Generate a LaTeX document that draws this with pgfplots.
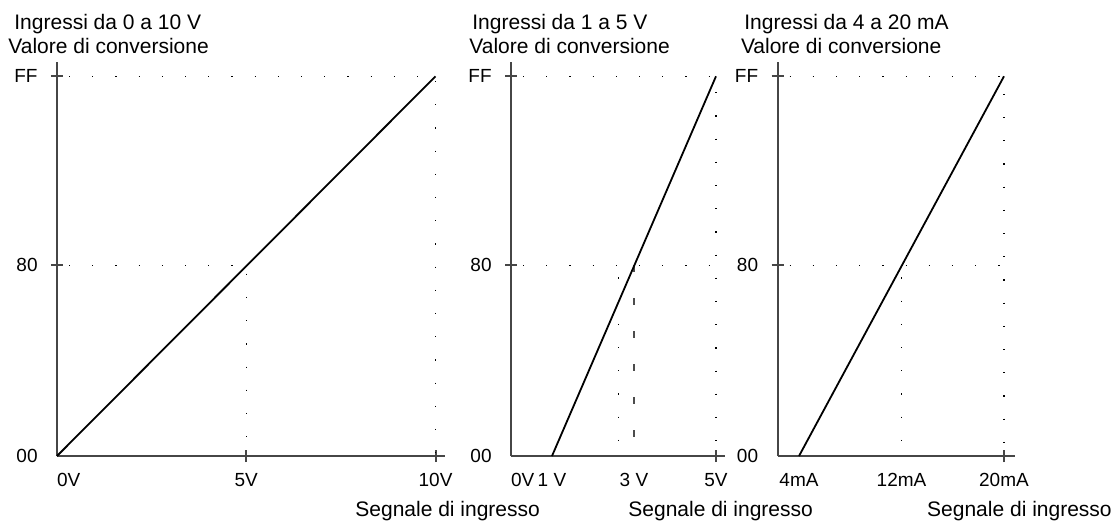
\documentclass[border=0pt]{standalone}
\usepackage{fontspec}
\setmainfont{Liberation Sans}
\usepackage{pgfplots}
\pgfplotsset{compat=1.18}
\definecolor{axisgray}{RGB}{70,70,70}
\pgfplotsset{
  panel/.style={
    scale only axis,
    anchor=south west,
    clip=false,
    axis x line=bottom, axis y line=left,
    axis line style={-, draw=axisgray, line width=1pt},
    ymin=0, ymax=264.6,
    height=197pt,
    ytick={128,255}, yticklabels={80,FF},
    extra y ticks={0}, extra y tick labels={00},
    extra tick style={major tick length=0pt,
      xticklabel style={yshift=-3pt}, yticklabel style={xshift=-3pt}},
    major tick length=6pt, tick align=center,
    every tick/.style={draw=axisgray, line width=1pt},
    /pgf/number format/assume math mode=true,
    tick label style={font=\fontsize{9.5}{10}\selectfont, inner sep=0pt},
    yticklabel style={anchor=east, xshift=-6.5pt},
    xticklabel style={anchor=north, yshift=-5.5pt},
  },
  dotl/.style={black, line width=0.6pt, dash pattern=on 0.6pt off 11pt, dash phase=-6pt},
  datal/.style={black, line width=0.9pt, no marks},
}
\begin{document}
\begin{tikzpicture}
\useasboundingbox (0,0) rectangle (557pt,-260pt);
% Panel 1
\begin{axis}[panel, at={(28.5pt,-228pt)}, width=194pt,
  xmin=0, xmax=10.25,
  xtick={5,10}, xticklabels={5V,10V},
  extra x ticks={0}, extra x tick labels={\makebox[0pt][l]{0V}}]
\addplot[dotl] coordinates {(0,255) (10,255) (10,0)};
\addplot[dotl] coordinates {(0,128) (5,128) (5,0)};
\addplot[datal] coordinates {(0,0) (10,255)};
\end{axis}
% Panel 2
\begin{axis}[panel, at={(255.5pt,-228pt)}, width=107pt,
  xmin=0, xmax=5.22,
  xtick={5}, xticklabels={5V},
  extra x ticks={0,1,3}, extra x tick labels={\makebox[0pt][l]{0V},1 V,3 V}]
\addplot[dotl] coordinates {(0,255) (5,255) (5,0)};
\addplot[dotl] coordinates {(0,128) (5,128)};
\addplot[dotl] coordinates {(2.63,128) (2.63,0)};
\addplot[gray!60!black, line width=0.8pt, dash pattern=on 3.5pt off 13pt] coordinates {(3,128) (3,0)};
\addplot[datal] coordinates {(1,0) (5,255)};
\end{axis}
% Panel 3
\begin{axis}[panel, at={(388.75pt,-228pt)}, width=118.75pt,
  xmin=2.32, xmax=20.86,
  xtick={20}, xticklabels={20mA},
  extra x ticks={4,12}, extra x tick labels={4mA,12mA}]
\addplot[dotl] coordinates {(2.32,255) (20,255) (20,0)};
\addplot[dotl] coordinates {(2.32,128) (20,128)};
\addplot[dotl] coordinates {(12,128) (12,0)};
\addplot[datal] coordinates {(4,0) (20,255)};
\end{axis}
% Titles
\begin{scope}[every node/.style={anchor=base west, inner sep=0pt, font=\fontsize{10.5}{12}\selectfont}]
\node at (7pt,-14.5pt) {Ingressi da 0 a 10 V};
\node at (4pt,-26.5pt) {Valore di conversione};
\node at (236pt,-14.5pt) {Ingressi da 1 a 5 V};
\node at (234.5pt,-26.5pt) {Valore di conversione};
\node at (372pt,-14.5pt) {Ingressi da 4 a 20 mA};
\node at (370.3pt,-26.5pt) {Valore di conversione};
\node at (177.5pt,-258pt) {Segnale di ingresso};
\node at (314pt,-258pt) {Segnale di ingresso};
\node at (463.4pt,-258pt) {Segnale di ingresso};
\end{scope}
\end{tikzpicture}
\end{document}
